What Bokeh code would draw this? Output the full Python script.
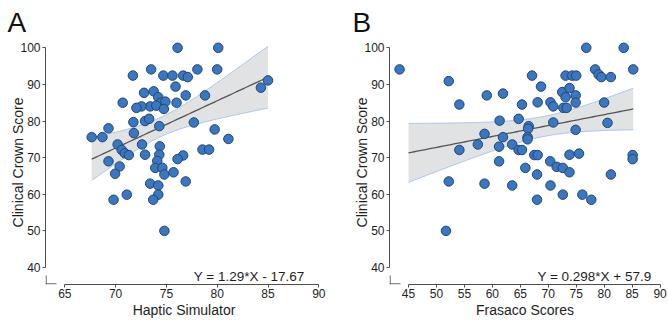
import numpy as np
from bokeh.plotting import figure
from bokeh.layouts import row
from bokeh.models import Label, FixedTicker
from bokeh.embed import file_html
from bokeh.resources import INLINE

# ---------------- data ----------------
# Panel A: Haptic Simulator vs Clinical Crown Score
haptic_x = [76.1, 80.1, 71.7, 73.5, 74.7, 75.6, 76.65, 77.1, 78.05, 80.0,
            75.9, 78.8, 76.9, 70.7, 72.8, 73.75, 74.2, 74.45, 74.9, 76.0,
            73.4, 74.0, 74.75, 72.55, 72.05, 71.75, 72.9, 73.3, 74.3, 77.7,
            79.75, 81.1, 69.3, 67.65, 68.7, 71.8, 70.2, 70.6, 70.9, 71.3,
            72.6, 74.35, 72.9, 74.3, 76.65, 76.1, 78.55, 79.2, 84.3, 85.0,
            69.3, 70.4, 69.95, 74.1, 73.9, 74.6, 74.8, 75.7, 76.9, 73.4,
            74.2, 74.2, 73.7, 71.1, 69.8, 74.8]
haptic_y = [100.0, 100.0, 92.4, 94.1, 92.4, 92.4, 92.4, 92.0, 94.1, 94.1,
            89.4, 87.0, 87.0, 85.0, 87.7, 88.1, 86.5, 85.0, 85.3, 85.0,
            84.0, 84.2, 83.3, 84.0, 83.6, 79.7, 80.0, 80.6, 78.6, 79.6,
            77.7, 75.1, 78.0, 75.6, 75.6, 76.7, 73.6, 72.1, 71.2, 70.7,
            73.6, 73.1, 70.8, 70.8, 70.6, 69.6, 72.2, 72.2, 89.1, 91.1,
            69.0, 67.6, 65.6, 69.1, 67.2, 67.2, 65.4, 66.0, 63.5, 62.9,
            62.4, 59.9, 58.5, 59.9, 58.5, 50.0]

# Panel B: Frasaco Scores vs Clinical Crown Score
frasaco_x = [43.4, 52.2, 54.1, 59.0, 61.9, 67.1, 68.7, 68.1, 70.4, 70.9,
             65.3, 73.1, 74.3, 75.0, 72.5, 73.8, 73.1, 74.9, 74.9, 72.7,
             73.3, 76.8, 83.5, 85.2, 78.4, 79.0, 79.5, 81.2, 80.0, 80.6,
             74.9, 70.9, 64.7, 61.3, 66.5, 66.4, 66.3, 66.3, 58.6, 61.9,
             57.4, 61.2, 63.55, 64.7, 65.3, 54.1, 67.5, 68.1, 73.8, 75.5,
             85.1, 85.1, 61.2, 65.9, 70.35, 68.0, 71.5, 72.6, 73.8, 70.4,
             72.6, 76.1, 77.7, 68.0, 63.55, 58.6, 52.2, 51.7, 81.2]
frasaco_y = [94.1, 90.9, 84.5, 87.0, 87.5, 92.4, 89.4, 85.1, 85.1, 84.0,
             84.5, 92.4, 92.4, 92.4, 87.9, 89.0, 86.5, 87.0, 85.05, 83.6,
             83.6, 100.0, 100.0, 94.1, 94.1, 92.7, 92.0, 92.0, 85.05, 79.5,
             77.6, 79.6, 80.6, 80.1, 78.6, 77.9, 75.6, 75.0, 76.5, 75.6,
             73.6, 73.0, 73.6, 72.1, 72.1, 72.1, 70.7, 70.7, 70.8, 71.1,
             70.7, 69.6, 69.0, 67.2, 69.0, 65.4, 67.5, 67.2, 66.0, 62.4,
             59.9, 59.9, 58.5, 58.5, 62.4, 62.9, 63.5, 50.0, 65.4]

a_slope, a_intercept = 1.29, -17.67
b_slope, b_intercept = 0.298, 57.9
a_equation = "Y = 1.29*X - 17.67"
b_equation = "Y = 0.298*X + 57.9"

y_ticks = [40, 50, 60, 70, 80, 90, 100]
a_x_ticks = [65, 70, 75, 80, 85, 90]
b_x_ticks = [45, 50, 55, 60, 65, 70, 75, 80, 85, 90]

# ---------------- style ----------------
FONT = "Liberation Sans"
TEXT = "#1e1e1e"
AXIS = "#4d4d4d"
T95 = 1.997

BORDER_TOP, BORDER_BOTTOM, HEIGHT = 40, 36, 320
FRAME_H = HEIGHT - BORDER_TOP - BORDER_BOTTOM
Y_RANGE = (35.36, 101.99)


def panel(letter, xs, ys, slope, intercept, eq, xlabel, x_ticks, x_range,
          width, border_left, border_right, letter_offset, eq_x):
    p = figure(width=width, height=HEIGHT,
               x_range=x_range, y_range=Y_RANGE,
               min_border_left=border_left, min_border_right=border_right,
               min_border_top=BORDER_TOP, min_border_bottom=BORDER_BOTTOM,
               output_backend="svg", toolbar_location=None,
               background_fill_color="white", border_fill_color="white")
    p.outline_line_color = None
    p.xgrid.visible = False
    p.ygrid.visible = False

    p.title.text = letter
    p.title.text_font = FONT
    p.title.text_font_size = "28px"
    p.title.text_font_style = "normal"
    p.title.text_color = "#111111"
    p.title.align = "left"
    p.title.offset = letter_offset
    p.title.standoff = 6

    for ax, ticks in ((p.xaxis, x_ticks), (p.yaxis, y_ticks)):
        ax.ticker = FixedTicker(ticks=ticks)
        ax.bounds = (ticks[0], ticks[-1])
        ax.minor_tick_line_color = None
        ax.major_tick_in = 0
        ax.major_tick_out = 3
        ax.axis_line_color = AXIS
        ax.major_tick_line_color = AXIS
        ax.major_label_text_font = FONT
        ax.major_label_text_font_size = "12px"
        ax.major_label_text_color = TEXT
        ax.axis_label_text_font = FONT
        ax.axis_label_text_font_size = "14px"
        ax.axis_label_text_font_style = "normal"
        ax.axis_label_text_color = TEXT
    p.xaxis.major_label_standoff = 1
    p.xaxis.axis_label_standoff = 1
    p.yaxis.major_label_standoff = 2
    p.yaxis.axis_label_standoff = -9
    p.xaxis.axis_label = xlabel
    p.yaxis.axis_label = "Clinical Crown Score"

    xa = np.asarray(xs, dtype=float)
    ya = np.asarray(ys, dtype=float)
    n = len(xa)
    resid = ya - (slope * xa + intercept)
    s = np.sqrt(np.sum(resid ** 2) / (n - 2))
    xbar = xa.mean()
    sxx = np.sum((xa - xbar) ** 2)
    x0 = max(xa.min(), x_ticks[0])
    x1 = xa.max()
    g = np.linspace(x0, x1, 80)
    yhat = slope * g + intercept
    half = T95 * s * np.sqrt(1.0 / n + (g - xbar) ** 2 / sxx)

    p.varea(x=g, y1=yhat - half, y2=yhat + half, fill_color="#e1e2e4")
    p.line(g, yhat + half, line_color="#a9c7ea", line_width=1)
    p.line(g, yhat - half, line_color="#a9c7ea", line_width=1)
    p.line(g, yhat, line_color="#555555", line_width=1.3)

    p.scatter(xa, ya, size=9.5, fill_color="#3b77c1", line_color="#23456f",
              line_width=1)

    # axis break stubs at the origin corner
    xs_per_px = (x_range[1] - x_range[0]) / (width - border_left - border_right)
    ys_per_px = (Y_RANGE[1] - Y_RANGE[0]) / FRAME_H
    p.segment(x0=[x_range[0] + 0.6 * xs_per_px], y0=[Y_RANGE[0]],
              x1=[x_range[0] + 0.6 * xs_per_px], y1=[Y_RANGE[0] + 9 * ys_per_px],
              line_color=AXIS, line_width=1)
    p.segment(x0=[x_range[0]], y0=[Y_RANGE[0] + 0.6 * ys_per_px],
              x1=[x_range[0] + 11 * xs_per_px], y1=[Y_RANGE[0] + 0.6 * ys_per_px],
              line_color=AXIS, line_width=1)

    p.add_layout(Label(x=eq_x, y=8, x_units="screen", y_units="screen",
                       text=eq, text_font=FONT, text_font_size="13.5px",
                       text_color=TEXT, text_align="right",
                       text_baseline="alphabetic"))
    return p


pa = panel("A", haptic_x, haptic_y, a_slope, a_intercept, a_equation,
           "Haptic Simulator", a_x_ticks, (63.10, 90.364),
           344, 45, 22, -38, 259)
pb = panel("B", frasaco_x, frasaco_y, b_slope, b_intercept, b_equation,
           "Frasaco Scores", b_x_ticks, (41.60, 90.08),
           324, 45, 8, -37, 262)

layout = row(pa, pb)
open("out.html", "w").write(file_html(layout, INLINE))
